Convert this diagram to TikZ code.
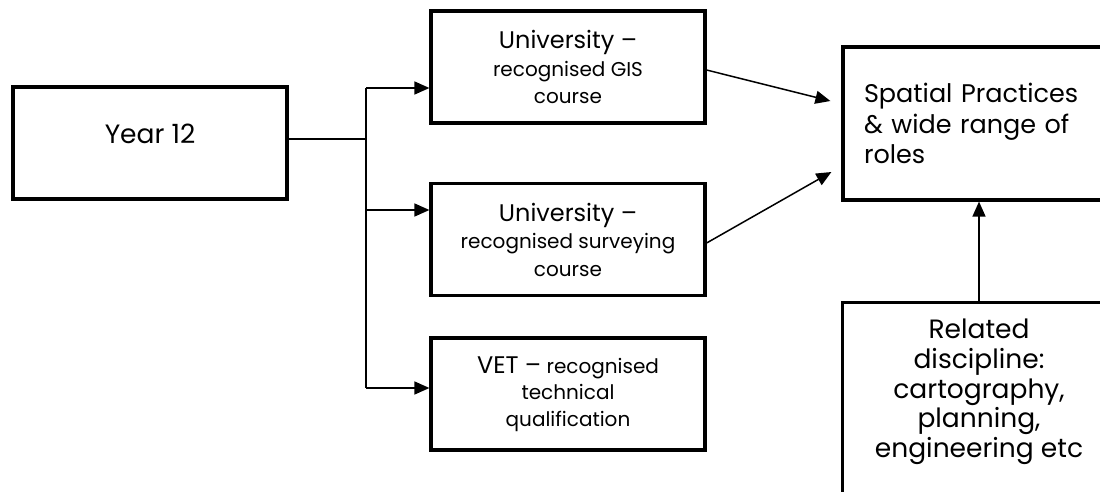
\documentclass[tikz,border=0pt]{standalone}
\usepackage{fontspec}
\setmainfont{Poppins}
\usetikzlibrary{arrows.meta}
\newcommand\mybig[1]{{\fontsize{24}{27.5}\selectfont #1}}
\begin{document}
\begin{tikzpicture}[x=1pt,y=-1pt,
  boxline/.style={line width=3.2pt},
  box/.style={draw, boxline, minimum width=274pt, minimum height=112pt, inner sep=0pt, align=center,
    font=\fontsize{20}{27.5}\selectfont},
  conn/.style={line width=1.5pt},
  arr/.style={conn, -{Triangle[length=15pt,width=13pt]}}]
\useasboundingbox (0,0) rectangle (1100,492);
\clip (0,0) rectangle (1100,492);

\node[box, font=\fontsize{26.5}{30}\selectfont, text height=9pt, text depth=9pt] (y12) at (150,143) {Year 12};
\node[box] (gis) at (568,67) {\mybig{University –}\\recognised GIS\\course};
\node[box] (sur) at (568,239.5) {\mybig{University –}\\recognised surveying\\course};
\node[box, font=\fontsize{20}{26.5}\selectfont] (vet) at (568,394) {\mybig{VET –} recognised\\technical\\qualification};
\node[box, font=\fontsize{25.5}{30.5}\selectfont, minimum width=272pt, minimum height=153pt, text width=230pt, inner xsep=21pt, align=left] (sp) at (979,123.5) {Spatial Practices\\\& wide range of\\roles};
\node[minimum width=272pt, minimum height=178pt, inner sep=0pt, align=center,
  font=\fontsize{26.5}{29.75}\selectfont] (rel) at (979,392) {Related\\discipline:\\cartography,\\planning,\\engineering etc};
\draw[boxline] ([yshift=-40pt]rel.south west) -- (rel.north west) -- (rel.north east) -- ([yshift=-40pt]rel.south east);

\coordinate (ja) at (366,88);
\coordinate (jb) at (366,210);
\coordinate (jc) at (366,388);
\draw[conn] ([yshift=4pt]y12.east) -- ([yshift=4pt]y12.east -| ja);
\draw[conn] (ja) -- (jc);
\draw[arr] (ja) -- (ja -| gis.west);
\draw[arr] (jb) -- (jb -| sur.west);
\draw[arr] (jc) -- (jc -| vet.west);
\draw[arr] ([yshift=-3pt]gis.east) -- ([xshift=-11pt,yshift=22.5pt]sp.west);
\draw[arr] ([yshift=-3.5pt]sur.east) -- ([xshift=-10pt,yshift=-48.5pt]sp.west);
\draw[arr] (rel.north) -- (sp.south);
\end{tikzpicture}
\end{document}
